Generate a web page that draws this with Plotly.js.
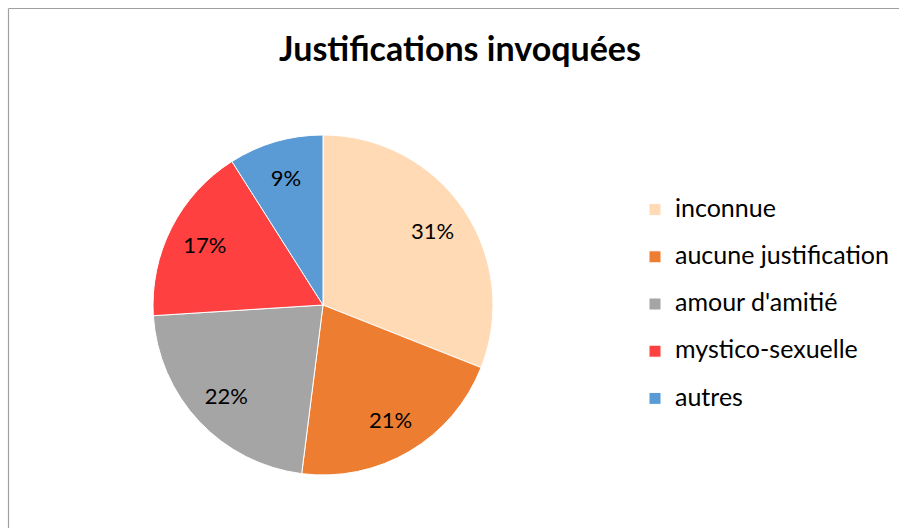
<!DOCTYPE html>
<html>
<head>
<meta charset="utf-8">
<script src="https://cdn.plot.ly/plotly-3.0.1.min.js"></script>
<style>html,body{margin:0;padding:0;background:#fff;}#chart{width:899px;height:528px;}</style>
</head>
<body>
<div id="chart"></div>
<script>
const categories = ["inconnue", "aucune justification", "amour d'amitié", "mystico-sexuelle", "autres"];
const values = [31, 21, 22, 17, 9];
const colors = ["#FFDAB4", "#ED7D31", "#A5A5A5", "#FF4040", "#5B9BD5"];

const W = 899, H = 528;
const FONT = "Lato, 'Open Sans', sans-serif";
const pieDomain = {x: [(323 - 170) / W, (323 + 170) / W], y: [1 - 475 / H, 1 - 135 / H]};

// the visible pie, which also feeds the legend
const basePie = {
  type: 'pie',
  labels: categories.map(c => '<span style="font-size:25px;baseline-shift:6px">' + c + '</span>'),
  values: values,
  sort: false,
  direction: 'clockwise',
  rotation: 0,
  textinfo: 'none',
  marker: {colors: colors, line: {color: '#ffffff', width: 1}},
  domain: pieDomain,
  hoverinfo: 'skip'
};

// transparent ring on top that only carries the percentage labels, placed further out
const labelPie = {
  type: 'pie',
  labels: categories,
  values: values,
  sort: false,
  direction: 'clockwise',
  rotation: 0,
  hole: 0.56,
  textinfo: 'percent',
  textposition: 'inside',
  insidetextorientation: 'horizontal',
  textfont: {family: FONT, size: 22, color: '#000'},
  marker: {colors: categories.map(() => 'rgba(0,0,0,0)'), line: {width: 0}},
  domain: pieDomain,
  showlegend: false,
  hoverinfo: 'label+percent'
};

const layout = {
  width: W, height: H,
  margin: {l: 0, r: 0, t: 0, b: 0},
  paper_bgcolor: '#fff',
  font: {family: FONT, color: '#000'},
  title: {
    text: '<b>Justifications invoquées</b>',
    font: {family: FONT, size: 34, color: '#000'},
    x: 460 / W, xref: 'paper', xanchor: 'center',
    y: 1 - 49 / H, yref: 'container', yanchor: 'middle'
  },
  showlegend: true,
  legend: {
    x: 635 / W, xanchor: 'left',
    y: 1 - 181 / H, yanchor: 'top',
    font: {family: FONT, size: 34, color: '#000'},
    bgcolor: 'rgba(0,0,0,0)',
    borderwidth: 0,
    itemwidth: 30
  },
  shapes: [
    {type: 'line', xref: 'paper', yref: 'paper', x0: 8.5 / W, x1: 1, y0: 1 - 8.5 / H, y1: 1 - 8.5 / H, line: {color: '#A0A0A0', width: 1.2}},
    {type: 'line', xref: 'paper', yref: 'paper', x0: 8.5 / W, x1: 8.5 / W, y0: 1 - 8.5 / H, y1: 0, line: {color: '#A0A0A0', width: 1.2}}
  ]
};

Plotly.newPlot('chart', [basePie, labelPie], layout, {displayModeBar: false, staticPlot: true});
</script>
</body>
</html>
